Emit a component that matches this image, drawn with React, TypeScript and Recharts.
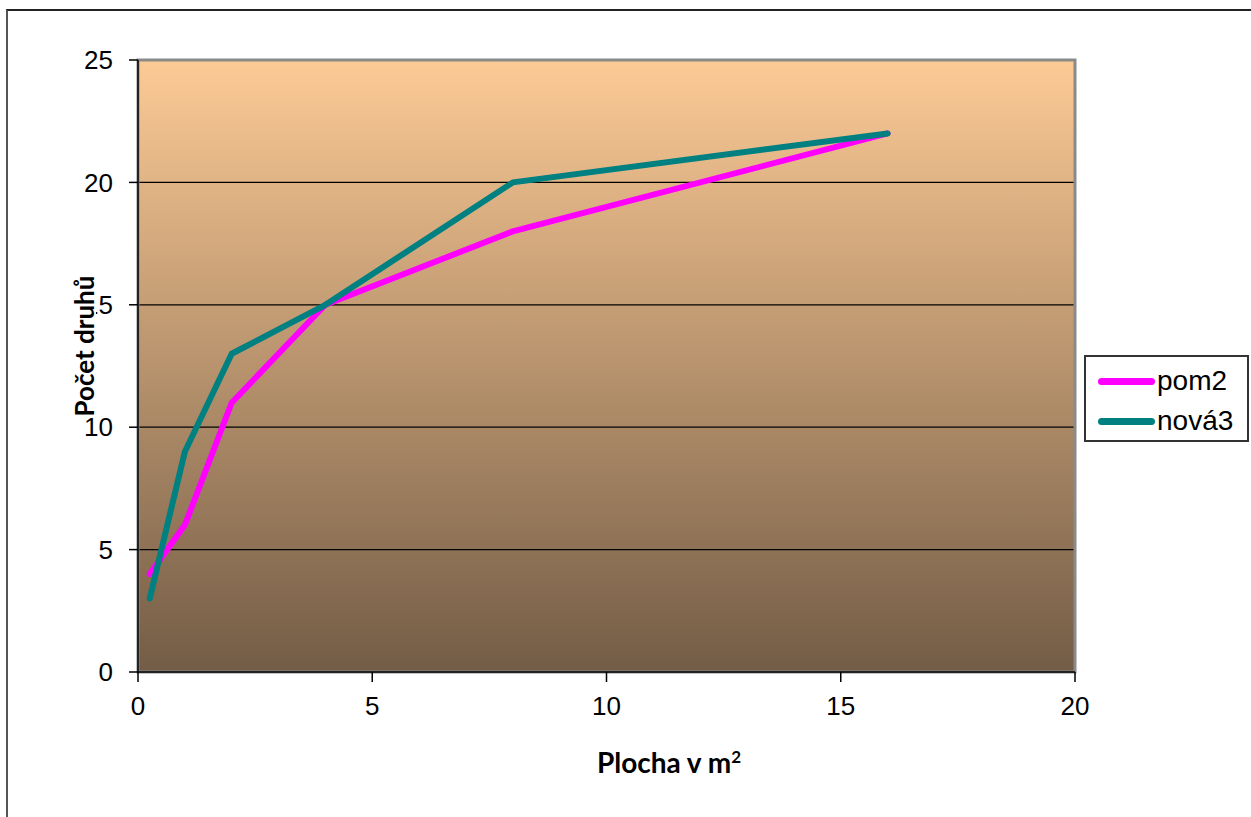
import React from "react";
import { LineChart, Line, XAxis, YAxis, CartesianGrid, ReferenceArea } from "recharts";

// plocha (m²) vs. počet druhů
const plocha = [0.25, 1, 2, 4, 8, 16];
const pom2 = [4, 6, 11, 15, 18, 22];
const nova3 = [3, 9, 13, 15, 20, 22];
const xTicks = [0, 5, 10, 15, 20];
const yTicks = [0, 5, 10, 15, 20, 25];

const data = plocha.map((x, i) => ({ x, pom2: pom2[i], nova3: nova3[i] }));

const W = 1251;
const H = 817;
const tickFont = { fill: "#000", fontSize: 26, fontFamily: "'Liberation Sans', Arial, sans-serif" };
const titleFont = "Lato, 'Open Sans', sans-serif";

const series = [
  { key: "pom2", name: "pom2", color: "#ff00ff" },
  { key: "nova3", name: "nová3", color: "#008080" },
];

export default function App() {
  return (
    <div style={{ position: "absolute", left: 0, top: 0, width: W, height: H, overflow: "hidden", background: "#fff" }}>
      <LineChart
        width={W}
        height={H}
        data={data}
        margin={{ top: 60, left: 78, right: W - 1075, bottom: H - 672 - 40 }}
      >
        <defs>
          <linearGradient id="bg" x1="0" y1="0" x2="0" y2="1">
            <stop offset="0%" stopColor="#fcca95" />
            <stop offset="100%" stopColor="#735c46" />
          </linearGradient>
        </defs>
        <CartesianGrid vertical={false} fill="url(#bg)" fillOpacity={1} stroke="#000" strokeWidth={1.2} />
        <ReferenceArea x1={0} x2={20} y1={0} y2={25} fill="none" stroke="#8a8a8a" strokeWidth={3} ifOverflow="visible" />
        <XAxis
          type="number"
          dataKey="x"
          domain={[0, 20]}
          ticks={xTicks}
          height={40}
          tick={tickFont}
          tickSize={10}
          tickMargin={15}
          axisLine={{ stroke: "#000", strokeWidth: 1.5 }}
          tickLine={{ stroke: "#000", strokeWidth: 1.5 }}
        />
        <YAxis
          type="number"
          domain={[0, 25]}
          ticks={yTicks}
          width={60}
          tick={tickFont}
          tickSize={9}
          tickMargin={16}
          axisLine={{ stroke: "#000", strokeWidth: 1.5 }}
          tickLine={{ stroke: "#000", strokeWidth: 1.5 }}
        />
        {series.map((s) => (
          <Line
            key={s.key}
            type="linear"
            dataKey={s.key}
            name={s.name}
            stroke={s.color}
            strokeWidth={6}
            strokeLinecap="round"
            strokeLinejoin="round"
            dot={false}
            activeDot={false}
            isAnimationActive={false}
          />
        ))}
      </LineChart>

      {/* outer frame */}
      <div
        style={{
          position: "absolute",
          left: 6,
          top: 9,
          width: W + 50,
          height: H + 50,
          borderTop: "2px solid #222",
          borderLeft: "2px solid #555",
          pointerEvents: "none",
        }}
      />

      {/* axis titles */}
      <div
        style={{
          position: "absolute",
          left: 669,
          top: 762,
          transform: "translate(-50%, -50%)",
          fontFamily: titleFont,
          fontWeight: 700,
          fontSize: 28,
          whiteSpace: "nowrap",
          color: "#000",
        }}
      >
        Plocha v m<sup style={{ fontSize: 17, verticalAlign: "top", position: "relative", top: 1 }}>2</sup>
      </div>
      <div
        style={{
          position: "absolute",
          left: 84,
          top: 346,
          transform: "translate(-50%, -50%) rotate(-90deg)",
          fontFamily: titleFont,
          fontWeight: 700,
          fontSize: 26,
          lineHeight: "24px",
          whiteSpace: "nowrap",
          color: "#000",
          background: "#fff",
        }}
      >
        Počet druhů
      </div>

      {/* legend */}
      <div
        style={{
          position: "absolute",
          left: 1084,
          top: 355,
          width: 161,
          height: 83,
          border: "2px solid #333",
          background: "#fff",
          fontFamily: "'Liberation Sans', Arial, sans-serif",
          fontSize: 28,
          color: "#000",
        }}
      >
        {series.map((s, i) => (
          <div
            key={s.key}
            style={{ position: "absolute", left: 12, top: 9 + i * 40, display: "flex", alignItems: "center", height: 30 }}
          >
            <span style={{ display: "inline-block", width: 57, height: 7, borderRadius: 4, background: s.color }} />
            <span style={{ marginLeft: 2 }}>{s.name}</span>
          </div>
        ))}
      </div>
    </div>
  );
}
